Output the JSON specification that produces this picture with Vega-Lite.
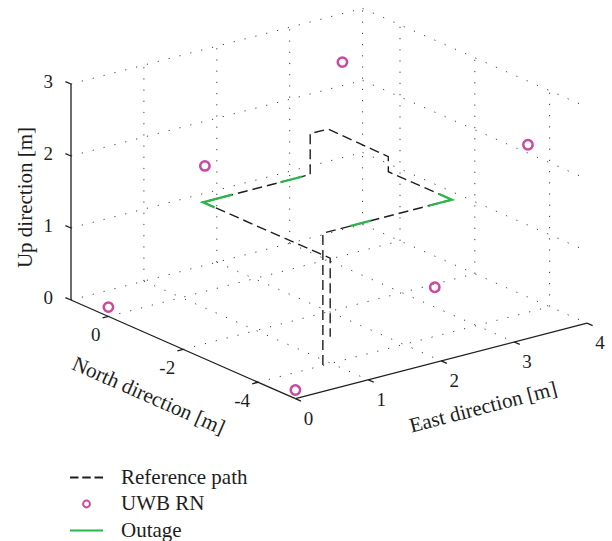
{
  "$schema": "https://vega.github.io/schema/vega-lite/v6.json",
  "width": 612,
  "height": 541,
  "padding": 0,
  "autosize": {"type": "fit", "contains": "padding"},
  "background": "white",
  "config": {"view": {"stroke": null}, "text": {"font": "Liberation Serif", "color": "#1e1e1e"}},
  "data": {
    "values": [
      {"k": "grid", "seg": "g1", "i": 0, "E": 1, "N": 1, "U": 0}, {"k": "grid", "seg": "g1", "i": 1, "E": 1, "N": -5, "U": 0},
      {"k": "grid", "seg": "g2", "i": 0, "E": 2, "N": 1, "U": 0}, {"k": "grid", "seg": "g2", "i": 1, "E": 2, "N": -5, "U": 0},
      {"k": "grid", "seg": "g3", "i": 0, "E": 3, "N": 1, "U": 0}, {"k": "grid", "seg": "g3", "i": 1, "E": 3, "N": -5, "U": 0},
      {"k": "grid", "seg": "g4", "i": 0, "E": 4, "N": 1, "U": 0}, {"k": "grid", "seg": "g4", "i": 1, "E": 4, "N": -5, "U": 0},
      {"k": "grid", "seg": "g5", "i": 0, "E": 0, "N": 0, "U": 0}, {"k": "grid", "seg": "g5", "i": 1, "E": 4, "N": 0, "U": 0},
      {"k": "grid", "seg": "g6", "i": 0, "E": 0, "N": -2, "U": 0}, {"k": "grid", "seg": "g6", "i": 1, "E": 4, "N": -2, "U": 0},
      {"k": "grid", "seg": "g7", "i": 0, "E": 0, "N": -4, "U": 0}, {"k": "grid", "seg": "g7", "i": 1, "E": 4, "N": -4, "U": 0},
      {"k": "grid", "seg": "g8", "i": 0, "E": 1, "N": 1, "U": 0}, {"k": "grid", "seg": "g8", "i": 1, "E": 1, "N": 1, "U": 3},
      {"k": "grid", "seg": "g9", "i": 0, "E": 2, "N": 1, "U": 0}, {"k": "grid", "seg": "g9", "i": 1, "E": 2, "N": 1, "U": 3},
      {"k": "grid", "seg": "g10", "i": 0, "E": 3, "N": 1, "U": 0}, {"k": "grid", "seg": "g10", "i": 1, "E": 3, "N": 1, "U": 3},
      {"k": "grid", "seg": "g11", "i": 0, "E": 4, "N": 1, "U": 0}, {"k": "grid", "seg": "g11", "i": 1, "E": 4, "N": 1, "U": 3},
      {"k": "grid", "seg": "g12", "i": 0, "E": 0, "N": 1, "U": 0}, {"k": "grid", "seg": "g12", "i": 1, "E": 4, "N": 1, "U": 0},
      {"k": "grid", "seg": "g13", "i": 0, "E": 0, "N": 1, "U": 1}, {"k": "grid", "seg": "g13", "i": 1, "E": 4, "N": 1, "U": 1},
      {"k": "grid", "seg": "g14", "i": 0, "E": 0, "N": 1, "U": 2}, {"k": "grid", "seg": "g14", "i": 1, "E": 4, "N": 1, "U": 2},
      {"k": "grid", "seg": "g15", "i": 0, "E": 0, "N": 1, "U": 3}, {"k": "grid", "seg": "g15", "i": 1, "E": 4, "N": 1, "U": 3},
      {"k": "grid", "seg": "g16", "i": 0, "E": 4, "N": 0, "U": 0}, {"k": "grid", "seg": "g16", "i": 1, "E": 4, "N": 0, "U": 3},
      {"k": "grid", "seg": "g17", "i": 0, "E": 4, "N": -2, "U": 0}, {"k": "grid", "seg": "g17", "i": 1, "E": 4, "N": -2, "U": 3},
      {"k": "grid", "seg": "g18", "i": 0, "E": 4, "N": -4, "U": 0}, {"k": "grid", "seg": "g18", "i": 1, "E": 4, "N": -4, "U": 3},
      {"k": "grid", "seg": "g19", "i": 0, "E": 4, "N": 1, "U": 1}, {"k": "grid", "seg": "g19", "i": 1, "E": 4, "N": -5, "U": 1},
      {"k": "grid", "seg": "g20", "i": 0, "E": 4, "N": 1, "U": 2}, {"k": "grid", "seg": "g20", "i": 1, "E": 4, "N": -5, "U": 2},
      {"k": "grid", "seg": "g21", "i": 0, "E": 4, "N": 1, "U": 3}, {"k": "grid", "seg": "g21", "i": 1, "E": 4, "N": -5, "U": 3},

      {"k": "axis", "seg": "up", "i": 0, "E": 0, "N": 1, "U": 0}, {"k": "axis", "seg": "up", "i": 1, "E": 0, "N": 1, "U": 3},
      {"k": "axis", "seg": "north", "i": 0, "E": 0, "N": 1, "U": 0}, {"k": "axis", "seg": "north", "i": 1, "E": 0, "N": -5, "U": 0},
      {"k": "axis", "seg": "east", "i": 0, "E": 0, "N": -5, "U": 0}, {"k": "axis", "seg": "east", "i": 1, "E": 4, "N": -5, "U": 0},
      {"k": "axis", "seg": "tu0", "i": 0, "E": 0, "N": 1, "U": 0}, {"k": "axis", "seg": "tu0", "i": 1, "E": 0, "N": 1.15, "U": 0},
      {"k": "axis", "seg": "tu1", "i": 0, "E": 0, "N": 1, "U": 1}, {"k": "axis", "seg": "tu1", "i": 1, "E": 0, "N": 1.15, "U": 1},
      {"k": "axis", "seg": "tu2", "i": 0, "E": 0, "N": 1, "U": 2}, {"k": "axis", "seg": "tu2", "i": 1, "E": 0, "N": 1.15, "U": 2},
      {"k": "axis", "seg": "tu3", "i": 0, "E": 0, "N": 1, "U": 3}, {"k": "axis", "seg": "tu3", "i": 1, "E": 0, "N": 1.15, "U": 3},
      {"k": "axis", "seg": "tn0", "i": 0, "E": 0, "N": 0, "U": 0}, {"k": "axis", "seg": "tn0", "i": 1, "E": -0.08, "N": 0, "U": 0},
      {"k": "axis", "seg": "tn2", "i": 0, "E": 0, "N": -2, "U": 0}, {"k": "axis", "seg": "tn2", "i": 1, "E": -0.08, "N": -2, "U": 0},
      {"k": "axis", "seg": "tn4", "i": 0, "E": 0, "N": -4, "U": 0}, {"k": "axis", "seg": "tn4", "i": 1, "E": -0.08, "N": -4, "U": 0},
      {"k": "axis", "seg": "te0", "i": 0, "E": 0, "N": -5, "U": 0}, {"k": "axis", "seg": "te0", "i": 1, "E": 0, "N": -5.15, "U": 0},
      {"k": "axis", "seg": "te1", "i": 0, "E": 1, "N": -5, "U": 0}, {"k": "axis", "seg": "te1", "i": 1, "E": 1, "N": -5.15, "U": 0},
      {"k": "axis", "seg": "te2", "i": 0, "E": 2, "N": -5, "U": 0}, {"k": "axis", "seg": "te2", "i": 1, "E": 2, "N": -5.15, "U": 0},
      {"k": "axis", "seg": "te3", "i": 0, "E": 3, "N": -5, "U": 0}, {"k": "axis", "seg": "te3", "i": 1, "E": 3, "N": -5.15, "U": 0},
      {"k": "axis", "seg": "te4", "i": 0, "E": 4, "N": -5, "U": 0}, {"k": "axis", "seg": "te4", "i": 1, "E": 4, "N": -5.15, "U": 0},

      {"k": "path", "series": "Reference path", "seg": "ref", "i": 0, "E": 0.9, "N": -3.98, "U": 0},
      {"k": "path", "series": "Reference path", "seg": "ref", "i": 1, "E": 0.9, "N": -3.98, "U": 1.83},
      {"k": "path", "series": "Reference path", "seg": "ref", "i": 2, "E": 2.67, "N": -3.98, "U": 1.83},
      {"k": "path", "series": "Reference path", "seg": "ref", "i": 3, "E": 2.67, "N": -2.28, "U": 1.83},
      {"k": "path", "series": "Reference path", "seg": "ref", "i": 4, "E": 2.67, "N": -2.28, "U": 2.04},
      {"k": "path", "series": "Reference path", "seg": "ref", "i": 5, "E": 2.69, "N": -0.63, "U": 2.04},
      {"k": "path", "series": "Reference path", "seg": "ref", "i": 6, "E": 2.45, "N": -0.62, "U": 2.04},
      {"k": "path", "series": "Reference path", "seg": "ref", "i": 7, "E": 2.45, "N": -0.62, "U": 1.47},
      {"k": "path", "series": "Reference path", "seg": "ref", "i": 8, "E": 0.98, "N": -0.62, "U": 1.47},
      {"k": "path", "series": "Reference path", "seg": "ref", "i": 9, "E": 0.98, "N": -4.02, "U": 1.47},
      {"k": "path", "series": "Reference path", "seg": "ref", "i": 10, "E": 0.98, "N": -4.02, "U": 0.38},

      {"k": "out", "series": "Outage", "seg": "o1", "i": 0, "E": 0.98, "N": -0.93, "U": 1.47},
      {"k": "out", "series": "Outage", "seg": "o1", "i": 1, "E": 0.98, "N": -0.62, "U": 1.47},
      {"k": "out", "series": "Outage", "seg": "o1", "i": 2, "E": 1.38, "N": -0.62, "U": 1.47},
      {"k": "out", "series": "Outage", "seg": "o2", "i": 0, "E": 2.04, "N": -0.62, "U": 1.47},
      {"k": "out", "series": "Outage", "seg": "o2", "i": 1, "E": 2.34, "N": -0.62, "U": 1.47},
      {"k": "out", "series": "Outage", "seg": "o3", "i": 0, "E": 1.27, "N": -3.98, "U": 1.83},
      {"k": "out", "series": "Outage", "seg": "o3", "i": 1, "E": 1.56, "N": -3.98, "U": 1.83},
      {"k": "out", "series": "Outage", "seg": "o4", "i": 0, "E": 2.35, "N": -3.98, "U": 1.83},
      {"k": "out", "series": "Outage", "seg": "o4", "i": 1, "E": 2.67, "N": -3.98, "U": 1.83},
      {"k": "out", "series": "Outage", "seg": "o4", "i": 2, "E": 2.67, "N": -3.62, "U": 1.83},

      {"k": "rn", "series": "UWB RN", "E": 0, "N": 0, "U": 0.13},
      {"k": "rn", "series": "UWB RN", "E": 0, "N": -5, "U": 0.12},
      {"k": "rn", "series": "UWB RN", "E": 0, "N": -2.58, "U": 2.68},
      {"k": "rn", "series": "UWB RN", "E": 3.21, "N": 0, "U": 2.69},
      {"k": "rn", "series": "UWB RN", "E": 3.19, "N": -5, "U": 2.69},
      {"k": "rn", "series": "UWB RN", "E": 3.22, "N": -2.45, "U": 0.12},

      {"k": "lu", "lab": "0", "E": 0, "N": 1, "U": 0}, {"k": "lu", "lab": "1", "E": 0, "N": 1, "U": 1},
      {"k": "lu", "lab": "2", "E": 0, "N": 1, "U": 2}, {"k": "lu", "lab": "3", "E": 0, "N": 1, "U": 3},
      {"k": "ln", "lab": "0", "E": 0, "N": 0, "U": 0}, {"k": "ln", "lab": "-2", "E": 0, "N": -2, "U": 0},
      {"k": "ln", "lab": "-4", "E": 0, "N": -4, "U": 0},
      {"k": "le", "lab": "0", "E": 0, "N": -5, "U": 0}, {"k": "le", "lab": "1", "E": 1, "N": -5, "U": 0},
      {"k": "le", "lab": "2", "E": 2, "N": -5, "U": 0}, {"k": "le", "lab": "3", "E": 3, "N": -5, "U": 0},
      {"k": "le", "lab": "4", "E": 4, "N": -5, "U": 0},
      {"k": "tu", "lab": "Up direction [m]", "E": 0, "N": 1, "U": 1.5},
      {"k": "tn", "lab": "North direction [m]", "E": 0, "N": -2, "U": 0},
      {"k": "te", "lab": "East direction [m]", "E": 2, "N": -5, "U": 0}
    ]
  },
  "transform": [
    {"calculate": "108.4 + 72.9 * datum.E - 37.4 * datum.N", "as": "sx"},
    {"calculate": "316.45 - 18.9 * datum.E - 16.45 * datum.N - 72 * datum.U", "as": "sy"}
  ],
  "encoding": {
    "x": {"field": "sx", "type": "quantitative", "scale": {"domain": [0, 612], "nice": false, "zero": false}, "axis": null},
    "y": {"field": "sy", "type": "quantitative", "scale": {"domain": [541, 0], "nice": false, "zero": false}, "axis": null}
  },
  "layer": [
    {
      "transform": [{"filter": "datum.k === 'grid'"}],
      "mark": {"type": "line", "stroke": "#3c3c3c", "strokeWidth": 1, "strokeDash": [1.2, 10], "strokeCap": "butt"},
      "encoding": {"detail": {"field": "seg"}, "order": {"field": "i"}}
    },
    {
      "transform": [{"filter": "datum.k === 'axis'"}],
      "mark": {"type": "line", "stroke": "#1e1e1e", "strokeWidth": 1.3},
      "encoding": {"detail": {"field": "seg"}, "order": {"field": "i"}}
    },
    {
      "transform": [{"filter": "datum.k === 'path'"}],
      "mark": {"type": "line", "strokeWidth": 1.4, "strokeDash": [10, 5]},
      "encoding": {
        "color": {"field": "series", "type": "nominal",
          "scale": {"domain": ["Reference path", "UWB RN", "Outage"], "range": ["#1e1e1e", "#c94a9e", "#2db54b"]}},
        "detail": {"field": "seg"}, "order": {"field": "i"}
      }
    },
    {
      "transform": [{"filter": "datum.k === 'out'"}],
      "mark": {"type": "line", "strokeWidth": 2.3},
      "encoding": {
        "color": {"field": "series", "type": "nominal"},
        "detail": {"field": "seg"}, "order": {"field": "i"}
      }
    },
    {
      "transform": [{"filter": "datum.k === 'rn'"}],
      "mark": {"type": "point", "filled": false, "size": 190, "strokeWidth": 2.5, "opacity": 1},
      "encoding": {
        "color": {"field": "series", "type": "nominal",
          "legend": {"title": null, "orient": "none", "legendX": 76, "legendY": 467,
            "labelFont": "Liberation Serif", "labelFontSize": 21, "labelColor": "#1e1e1e",
            "symbolSize": 100, "symbolStrokeWidth": 2, "labelOffset": 24, "rowPadding": 4.5,
            "symbolFillColor": "transparent"}},
        "shape": {"field": "series", "type": "nominal",
          "scale": {"domain": ["Reference path", "UWB RN", "Outage"],
            "range": ["M-3.3,0H-1.6M-0.85,0H0.85M1.6,0H3.3", "M0.68,0A0.68,0.68 0 1,1 -0.68,0A0.68,0.68 0 1,1 0.68,0Z", "M-3.3,0H3.3"]}}
      }
    },
    {
      "transform": [{"filter": "datum.k === 'lu'"}],
      "mark": {"type": "text", "fontSize": 19, "align": "right", "baseline": "middle", "dx": -18, "dy": -2},
      "encoding": {"text": {"field": "lab"}}
    },
    {
      "transform": [{"filter": "datum.k === 'ln'"}],
      "mark": {"type": "text", "fontSize": 19, "align": "right", "baseline": "middle", "dx": -8, "dy": 19},
      "encoding": {"text": {"field": "lab"}}
    },
    {
      "transform": [{"filter": "datum.k === 'le'"}],
      "mark": {"type": "text", "fontSize": 19, "align": "center", "baseline": "middle", "dx": 13, "dy": 20},
      "encoding": {"text": {"field": "lab"}}
    },
    {
      "transform": [{"filter": "datum.k === 'tu'"}],
      "mark": {"type": "text", "fontSize": 21, "align": "center", "baseline": "middle", "angle": 270, "dx": -5.5, "dy": -45},
      "encoding": {"text": {"field": "lab"}}
    },
    {
      "transform": [{"filter": "datum.k === 'tn'"}],
      "mark": {"type": "text", "fontSize": 21, "align": "center", "baseline": "middle", "angle": 23.7, "dx": -13, "dy": 57},
      "encoding": {"text": {"field": "lab"}}
    },
    {
      "transform": [{"filter": "datum.k === 'te'"}],
      "mark": {"type": "text", "fontSize": 21, "align": "center", "baseline": "middle", "angle": -14.5, "dx": 29, "dy": 56},
      "encoding": {"text": {"field": "lab"}}
    }
  ]
}
